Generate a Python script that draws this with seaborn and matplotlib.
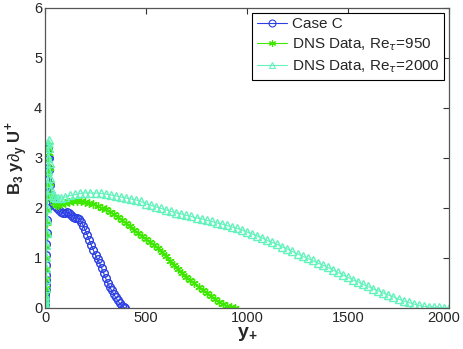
import matplotlib
matplotlib.use("Agg")
import matplotlib.pyplot as plt
import matplotlib.transforms as mtransforms
import seaborn as sns
import pandas as pd

# Case C
yp_case_c = [0, 0.5, 1, 1.5, 2, 2.5, 3, 3.5, 4, 5,
             6, 7, 8, 9, 10, 11, 12, 13, 14, 15,
             17, 19, 21, 24, 28, 33, 40, 48, 57, 67,
             78, 90, 100, 110, 120, 130, 140, 150, 160, 170,
             180, 190, 200, 210, 220, 230, 240, 250, 260, 270,
             280, 290, 300, 310, 320, 330, 340, 350, 360, 370,
             380, 390, 398]
val_case_c = [0, 0.05, 0.12, 0.2, 0.28, 0.36, 0.45, 0.55, 0.65, 0.85,
              1.05, 1.28, 1.5, 1.75, 2.0, 2.3, 2.55, 2.8, 3.0, 3.2,
              3.2, 3.0, 2.75, 2.45, 2.25, 2.17, 2.1, 2.04, 2.0, 1.95,
              1.92, 1.9, 1.9, 1.91, 1.9, 1.86, 1.81, 1.8, 1.8, 1.78,
              1.72, 1.64, 1.55, 1.45, 1.35, 1.25, 1.15, 1.06, 0.97, 0.9,
              0.8, 0.7, 0.6, 0.5, 0.42, 0.35, 0.28, 0.21, 0.15, 0.09,
              0.04, 0.01, 0.0]

# DNS Re_tau = 950
yp_dns950 = [0, 0.5, 1, 1.5, 2, 3, 4, 5, 6, 7,
             8, 9, 10, 11, 12, 13, 14, 16, 18, 20,
             23, 27, 32, 38, 45, 55, 65, 80, 100, 120,
             140, 160, 180, 200, 220, 240, 260, 280, 300, 320,
             340, 360, 380, 400, 420, 440, 460, 480, 500, 520,
             540, 560, 580, 600, 620, 640, 660, 680, 700, 720,
             740, 760, 780, 800, 820, 840, 860, 880, 900, 920,
             940]
val_dns950 = [0, 0.04, 0.1, 0.17, 0.25, 0.4, 0.58, 0.78, 1.0, 1.22,
              1.45, 1.7, 1.95, 2.2, 2.45, 2.7, 2.95, 3.2, 3.25, 3.1,
              2.8, 2.5, 2.28, 2.15, 2.09, 2.06, 2.06, 2.08, 2.1, 2.12,
              2.13, 2.13, 2.13, 2.12, 2.1, 2.07, 2.04, 2.0, 1.97, 1.92,
              1.87, 1.82, 1.76, 1.7, 1.63, 1.56, 1.5, 1.44, 1.38, 1.32,
              1.26, 1.2, 1.12, 1.03, 0.94, 0.86, 0.77, 0.69, 0.62, 0.55,
              0.49, 0.42, 0.36, 0.3, 0.24, 0.17, 0.12, 0.08, 0.04, 0.02,
              0.0]

# DNS Re_tau = 2000
yp_dns2000 = [0, 0.5, 1, 1.5, 2, 3, 4, 5, 6, 7,
              8, 9, 10, 11, 12, 13, 14, 16, 18, 20,
              23, 27, 32, 38, 45, 55, 66, 80] + list(range(100, 2001, 25))
val_dns2000 = [0, 0.04, 0.1, 0.17, 0.25, 0.4, 0.58, 0.8, 1.02, 1.25,
               1.5, 1.75, 2.0, 2.25, 2.5, 2.75, 3.0, 3.3, 3.35, 3.2,
               2.9, 2.6, 2.38, 2.26, 2.21, 2.19, 2.19, 2.2,
               2.22, 2.25, 2.27, 2.29, 2.3, 2.3, 2.3, 2.29, 2.28, 2.26,
               2.24, 2.22, 2.2, 2.18, 2.16, 2.13, 2.08, 2.05, 2.02, 1.99,
               1.96, 1.93, 1.9, 1.88, 1.85, 1.83, 1.8, 1.78, 1.75, 1.73,
               1.7, 1.68, 1.65, 1.62, 1.59, 1.56, 1.52, 1.48, 1.44, 1.4,
               1.35, 1.31, 1.27, 1.22, 1.18, 1.13, 1.08, 1.04, 0.99, 0.95,
               0.9, 0.86, 0.81, 0.76, 0.71, 0.66, 0.61, 0.56, 0.52, 0.47,
               0.43, 0.38, 0.34, 0.3, 0.26, 0.22, 0.18, 0.14, 0.11, 0.08,
               0.05, 0.03, 0.02, 0.01, 0.01, 0.0, 0.0]

x_ticks = [0, 500, 1000, 1500, 2000]
y_ticks = [0, 1, 2, 3, 4, 5, 6]

sns.set_style("white")
plt.rcParams["font.family"] = ["Liberation Sans", "DejaVu Sans"]
plt.rcParams["mathtext.fontset"] = "custom"
plt.rcParams["mathtext.rm"] = "Liberation Sans"
plt.rcParams["mathtext.bf"] = "Liberation Sans:bold"

fig = plt.figure(figsize=(4.63, 3.49), dpi=100)
ax = fig.add_axes([0.0972, 0.1175, 0.8726, 0.8596])

series = [
    (yp_case_c, val_case_c, "Case C", "#2b3fe3", "o", 5.5),
    (yp_dns950, val_dns950, r"DNS Data, Re$_\tau$=950", "#3fe800", (6, 2, 0), 6),
    (yp_dns2000, val_dns2000, r"DNS Data, Re$_\tau$=2000", "#64f3bd", "^", 6),
]
for xs, ys, label, color, mk, ms in series:
    df = pd.DataFrame({"y+": xs, "val": ys})
    sns.lineplot(data=df, x="y+", y="val", ax=ax, label=label, color=color,
                 marker=mk, markersize=ms, markerfacecolor="none",
                 markeredgecolor=color, markeredgewidth=1.0,
                 linewidth=0.8, estimator=None)

ax.set_xlim(0, 2000)
ax.set_ylim(0, 6)
ax.set_xticks(x_ticks)
ax.set_yticks(y_ticks)
ax.tick_params(direction="in", length=4, top=True, right=True,
               labelsize=10.5, color="#333333", pad=2)
for s in ax.spines.values():
    s.set_color("#555555")
    s.set_linewidth(0.9)

# nudge the last x label so it stays inside the figure
last = ax.get_xticklabels()[-1]
last.set_transform(last.get_transform() +
                   mtransforms.ScaledTranslation(-4 / 72, 0, fig.dpi_scale_trans))

ax.set_xlabel(r"y$_\mathbf{+}$", fontsize=14, fontweight="bold", labelpad=0)
ax.set_ylabel(r"B$_\mathbf{3}$ y$\partial_\mathbf{y}$ U$^\mathbf{+}$",
              fontsize=12, fontweight="bold", labelpad=3)

leg = ax.legend(loc="upper right", fontsize=11, frameon=True, fancybox=False,
                edgecolor="black", framealpha=1, borderpad=0.3,
                labelspacing=0.35, handlelength=2.0, handletextpad=0.3,
                borderaxespad=0.3)
leg.get_frame().set_linewidth(0.8)
for h in leg.legend_handles:
    h.set_markersize(5)
    h.set_markeredgewidth(0.8)

fig.savefig("out.png", dpi=100)
